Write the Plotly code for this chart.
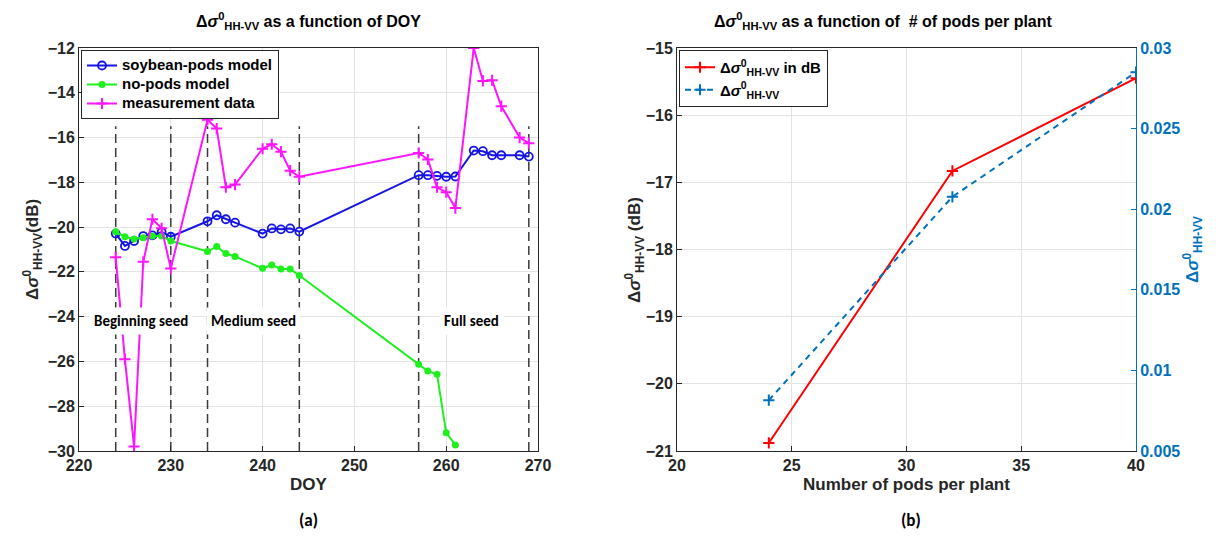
import plotly.graph_objects as go

# ---------------- data: panel (a) ----------------
doy = [224, 225, 226, 227, 228, 229, 230,
       234, 235, 236, 237, 240, 241, 242, 243, 244,
       257, 258, 259, 260, 261]
doy_late_blue = [263, 264, 265, 266, 268, 269]
doy_late_meas = [263, 264, 265, 266, 268, 269]

soy_pods = [-20.29, -20.84, -20.62, -20.40, -20.37, -20.22, -20.43,
            -19.74, -19.47, -19.65, -19.80, -20.29, -20.06, -20.10, -20.06, -20.20,
            -17.68, -17.68, -17.71, -17.75, -17.74]
soy_pods_late = [-16.58, -16.61, -16.79, -16.79, -16.79, -16.85]

no_pods = [-20.21, -20.43, -20.53, -20.47, -20.40, -20.40, -20.62,
           -21.09, -20.87, -21.18, -21.31, -21.84, -21.69, -21.87, -21.87, -22.16,
           -26.13, -26.43, -26.57, -29.19, -29.73]

measured = [-21.35, -25.90, -29.80, -21.55, -19.65, -20.05, -21.85,
            -15.20, -15.60, -18.22, -18.10, -16.50, -16.30, -16.63, -17.48, -17.75,
            -16.69, -16.98, -18.22, -18.44, -19.15]
measured_late = [-12.0, -13.47, -13.44, -14.60, -16.00, -16.25]

stage_doys = [224, 230, 234, 244, 257, 269]
stage_names = ["Beginning seed", "Medium seed", "Full seed"]
stage_label_x = [226.8, 239.0, 262.8]
stage_label_y = -24.2

series_names = ["soybean-pods model", "no-pods model", "measurement data"]

# ---------------- data: panel (b) ----------------
pods = [24, 32, 40]
delta_db = [-20.88, -16.83, -15.45]
delta_lin = [0.00815, 0.02077, 0.0285]

# ---------------- figure ----------------
W, H = 1219, 537
BLUE = "#1414E6"
GREEN = "#1EF01E"
MAG = "#FF14FF"
RED = "#FF0000"
MBLUE = "#0072BD"
TXT = "#262626"
FONT = "Liberation Sans, Arial, sans-serif"
CAL = "Carlito, Calibri, Lato, sans-serif"
SIG = "Δ<i>σ</i><sup>0</sup><sub>HH-VV</sub>"

PY_TOP, PY_BOT = 40, 443
AX_L = (71, 530)
AX_R = (669, 1128)


def px(x):
    return x / W


def py(y):
    return 1 - y / H


def big(s):
    return '<span style="font-size:15px">' + s + '</span>'


fig = go.Figure()

# stage boundary dashed lines
for d in stage_doys:
    fig.add_trace(go.Scatter(x=[d, d], y=[-30, -15.5], mode="lines",
                             line=dict(color="#3a3a3a", width=1.5, dash="9px,5px"),
                             showlegend=False, hoverinfo="skip",
                             xaxis="x", yaxis="y"))

fig.add_trace(go.Scatter(x=doy + doy_late_blue, y=soy_pods + soy_pods_late,
                         mode="lines+markers", name=big(series_names[0]),
                         line=dict(color=BLUE, width=2),
                         marker=dict(symbol="circle-open", size=8, color=BLUE,
                                     line=dict(width=1.8, color=BLUE)),
                         xaxis="x", yaxis="y"))
fig.add_trace(go.Scatter(x=doy, y=no_pods,
                         mode="lines+markers", name=big(series_names[1]),
                         line=dict(color=GREEN, width=2),
                         marker=dict(symbol="circle", size=7, color=GREEN),
                         xaxis="x", yaxis="y"))
fig.add_trace(go.Scatter(x=doy + doy_late_meas, y=measured + measured_late,
                         mode="lines+markers", name=big(series_names[2]),
                         line=dict(color=MAG, width=2),
                         marker=dict(symbol="cross-thin", size=8, color=MAG,
                                     line=dict(width=2, color=MAG)),
                         xaxis="x", yaxis="y"))

# panel (b)
fig.add_trace(go.Scatter(x=pods, y=delta_db, mode="lines+markers",
                         name=SIG + " in dB",
                         line=dict(color=RED, width=2),
                         marker=dict(symbol="cross-thin", size=8, color=RED,
                                     line=dict(width=2, color=RED)),
                         xaxis="x2", yaxis="y2", legend="legend2"))
fig.add_trace(go.Scatter(x=pods, y=delta_lin, mode="lines+markers",
                         name=SIG,
                         line=dict(color=MBLUE, width=2, dash="6px,5px"),
                         marker=dict(symbol="cross-thin", size=8, color=MBLUE,
                                     line=dict(width=2, color=MBLUE)),
                         xaxis="x2", yaxis="y3", legend="legend2"))

tickf = dict(family=FONT, size=16, color=TXT, weight="bold")
titlef = dict(family=FONT, size=17, color=TXT, weight="bold")
ax_common = dict(showline=True, linecolor="#262626", linewidth=1,
                 ticks="inside", ticklen=5, tickcolor="#262626",
                 showgrid=True, gridcolor="#E3E3E3", gridwidth=1, zeroline=False,
                 automargin=False, tickfont=tickf)

fig.update_layout(
    width=W, height=H,
    margin=dict(l=0, r=0, t=0, b=0, autoexpand=False),
    paper_bgcolor="white", plot_bgcolor="white",
    font=dict(family=FONT, color=TXT),
    xaxis=dict(domain=[px(AX_L[0]), px(AX_L[1])], range=[220, 270], dtick=10,
               anchor="y", mirror=True,
               title=dict(text="DOY", font=titlef, standoff=4),
               **ax_common),
    yaxis=dict(domain=[py(PY_BOT), py(PY_TOP)], range=[-30, -12], dtick=2,
               anchor="x", mirror=True, **ax_common),
    xaxis2=dict(domain=[px(AX_R[0]), px(AX_R[1])], range=[20, 40], dtick=5,
                anchor="y2", mirror=True,
                title=dict(text="Number of pods per plant", font=titlef, standoff=4),
                **ax_common),
    yaxis2=dict(domain=[py(PY_BOT), py(PY_TOP)], range=[-21, -15], dtick=1,
                anchor="x2", **ax_common),
    yaxis3=dict(overlaying="y2", side="right", anchor="x2",
                range=[0.005, 0.03], dtick=0.005, showgrid=False, zeroline=False,
                showline=True, linecolor=MBLUE, linewidth=1, automargin=False,
                ticks="inside", ticklen=5, tickcolor=MBLUE,
                tickfont=dict(family=FONT, size=16, color=MBLUE, weight="bold"),
                title=dict(text=SIG, font=dict(family=FONT, size=17, color=MBLUE, weight="bold"),
                           standoff=2)),
    legend=dict(x=px(AX_L[0] + 2), y=py(PY_TOP + 2), xanchor="left", yanchor="top",
                bgcolor="white", bordercolor="#262626", borderwidth=1,
                font=dict(family=FONT, size=12, color="black", weight="bold"),
                tracegroupgap=0, itemwidth=30),
    legend2=dict(x=px(AX_R[0] + 2), y=py(PY_TOP + 2), xanchor="left", yanchor="top",
                 bgcolor="white", bordercolor="#262626", borderwidth=1,
                 font=dict(family=FONT, size=15, color="black", weight="bold"),
                 tracegroupgap=0, itemwidth=30),
)

# y-axis titles (as rotated annotations for exact placement)
fig.add_annotation(x=px(24), y=py(242), xref="paper", yref="paper", textangle=-90,
                   xanchor="center", yanchor="middle",
                   showarrow=False, text="<b>" + SIG + "(dB)</b>",
                   font=dict(family=FONT, size=17, color=TXT))
fig.add_annotation(x=px(626), y=py(242), xref="paper", yref="paper", textangle=-90,
                   xanchor="center", yanchor="middle",
                   showarrow=False, text="<b>" + SIG + " (dB)</b>",
                   font=dict(family=FONT, size=17, color=TXT))

# stage labels
for name, sx in zip(stage_names, stage_label_x):
    fig.add_annotation(x=sx, y=stage_label_y, xref="x", yref="y", text="<b>" + name + "</b>",
                       showarrow=False, bgcolor="white",
                       font=dict(family=CAL, size=15, color="black"),
                       borderpad=4)

# titles
fig.add_annotation(x=px((AX_L[0] + AX_L[1]) / 2), y=1.0, xref="paper", yref="paper",
                   xanchor="center", yanchor="top", showarrow=False,
                   text="<b>" + SIG + " as a function of DOY</b>",
                   font=dict(family=FONT, size=16, color="black"))
fig.add_annotation(x=px(875), y=1.0, xref="paper", yref="paper",
                   xanchor="center", yanchor="top", showarrow=False,
                   text="<b>" + SIG + " as a function of  # of pods per plant</b>",
                   font=dict(family=FONT, size=16, color="black"))

# captions
fig.add_annotation(x=px(300), y=py(512), xref="paper", yref="paper",
                   xanchor="center", yanchor="middle",
                   showarrow=False, text="<b>(a)</b>",
                   font=dict(family=CAL, size=17, color="black"))
fig.add_annotation(x=px(903), y=py(512), xref="paper", yref="paper",
                   xanchor="center", yanchor="middle",
                   showarrow=False, text="<b>(b)</b>",
                   font=dict(family=CAL, size=17, color="black"))

fig.write_html("out.html")
